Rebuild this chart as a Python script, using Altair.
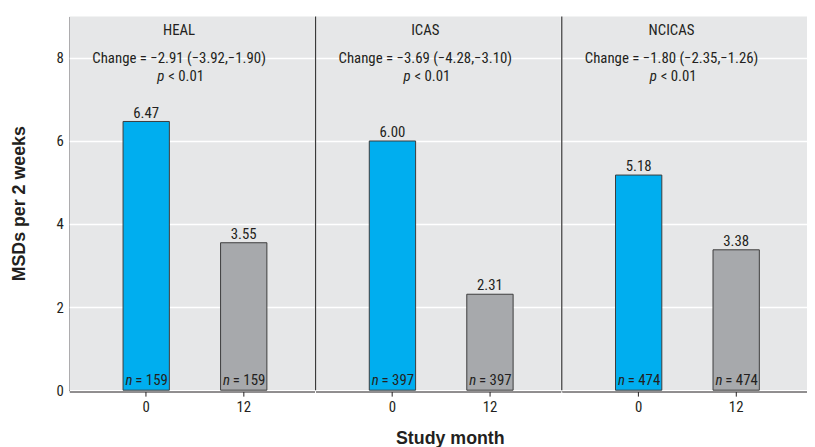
import altair as alt
import pandas as pd

groups = ["HEAL", "ICAS", "NCICAS"]
months = ["0", "12"]
month0_values = [6.47, 6.00, 5.18]
month12_values = [3.55, 2.31, 3.38]
n_values = [159, 397, 474]
change_texts = [
    "Change = \u22122.91 (\u22123.92,\u22121.90)",
    "Change = \u22123.69 (\u22124.28,\u22123.10)",
    "Change = \u22121.80 (\u22122.35,\u22121.26)",
]
p_text = "< 0.01"
y_ticks = [0, 2, 4, 6, 8]

rows = []
for i, g in enumerate(groups):
    for m, v in zip(months, [month0_values[i], month12_values[i]]):
        rows.append({
            "group": g, "month": m, "value": v, "label": f"{v:.2f}",
            "n_text": f"= {n_values[i]}", "change": change_texts[i], "p": p_text,
        })
df = pd.DataFrame(rows)

FONT = "Liberation Sans Narrow, Roboto Condensed, DejaVu Sans Condensed, sans-serif"
TITLE_FONT = "Liberation Sans, Arial, sans-serif"
INK = "#231f20"
H = 378
W = 248

x_scale = alt.Scale(domain=months, paddingInner=0.525, paddingOuter=0.52, align=0.53)
x_enc = alt.X(
    "month:N", sort=months, scale=x_scale,
    axis=alt.Axis(title=None, labelAngle=0, labelFont=FONT, labelFontSize=15,
                  labelColor=INK, tickColor=INK, tickSize=5, tickWidth=1,
                  labelPadding=4, domainColor=INK, domainWidth=1.5),
)
y_enc = alt.Y(
    "value:Q", scale=alt.Scale(domain=[0, 9], nice=False),
    axis=alt.Axis(title="MSDs per 2 weeks", values=y_ticks, ticks=False,
                  labelPadding=6, labelFont=FONT, labelFontSize=15, labelColor=INK,
                  titleFont=TITLE_FONT, titleFontSize=18, titleFontWeight="bold",
                  titleColor=INK, titlePadding=28, gridColor="white", gridWidth=1.5,
                  domainColor=INK, domainWidth=1.5),
)
x_plain = alt.X("month:N", sort=months)

bars = alt.Chart().mark_bar(stroke="#3c3c3c", strokeWidth=1).encode(
    x=x_enc, y=y_enc,
    color=alt.Color("month:N", scale=alt.Scale(domain=months, range=["#00aeef", "#a7a9ac"]), legend=None),
)
values = alt.Chart().mark_text(font=FONT, fontSize=15, baseline="alphabetic", dy=-4, color=INK).encode(
    x=x_plain, y="value:Q", text="label:N"
)
n_it = alt.Chart().mark_text(font=FONT, fontSize=15, fontStyle="italic", align="left",
                             baseline="alphabetic", dx=-21, dy=-5, color=INK).encode(
    x=x_plain, y=alt.value(H), text=alt.value("n")
)
n_rest = alt.Chart().mark_text(font=FONT, fontSize=15, align="left",
                               baseline="alphabetic", dx=-11, dy=-5, color=INK).encode(
    x=x_plain, y=alt.value(H), text="n_text:N"
)
first = "datum.month == '0'"
grp = alt.Chart().transform_filter(first).mark_text(font=FONT, fontSize=15, baseline="alphabetic", color=INK).encode(
    x=alt.value(111), y=alt.value(19), text="group:N"
)
chg = alt.Chart().transform_filter(first).mark_text(font=FONT, fontSize=15, baseline="alphabetic", color=INK).encode(
    x=alt.value(111), y=alt.value(47), text="change:N"
)
p_it = alt.Chart().transform_filter(first).mark_text(font=FONT, fontSize=15, fontStyle="italic", align="left",
                                                     baseline="alphabetic", color=INK).encode(
    x=alt.value(89), y=alt.value(65), text=alt.value("p")
)
p_rest = alt.Chart().transform_filter(first).mark_text(font=FONT, fontSize=15, align="left",
                                                       baseline="alphabetic", color=INK).encode(
    x=alt.value(100), y=alt.value(65), text="p:N"
)
sep = alt.Chart().transform_filter("datum.month == '0' && datum.group != 'HEAL'").mark_rule(
    color="#3a3a3a", strokeWidth=1.2
).encode(x=alt.value(0), y=alt.value(0), y2=alt.value(H))

layer = alt.layer(bars, values, n_it, n_rest, grp, chg, p_it, p_rest, sep, data=df).properties(width=W, height=H)

chart = layer.facet(
    column=alt.Column("group:N", sort=groups, header=alt.Header(labels=False, title=None)),
    spacing=0,
).properties(
    title=alt.TitleParams("Study month", orient="bottom", anchor="middle", frame="bounds",
                          font=TITLE_FONT, fontSize=18, fontWeight="bold", color=INK,
                          offset=15, dx=42),
    padding={"left": 2, "top": 5, "right": 0, "bottom": 0},
).configure_view(stroke=None, fill="#e6e7e8")

chart.save("out.html", embed_options={"renderer": "svg", "actions": False})
